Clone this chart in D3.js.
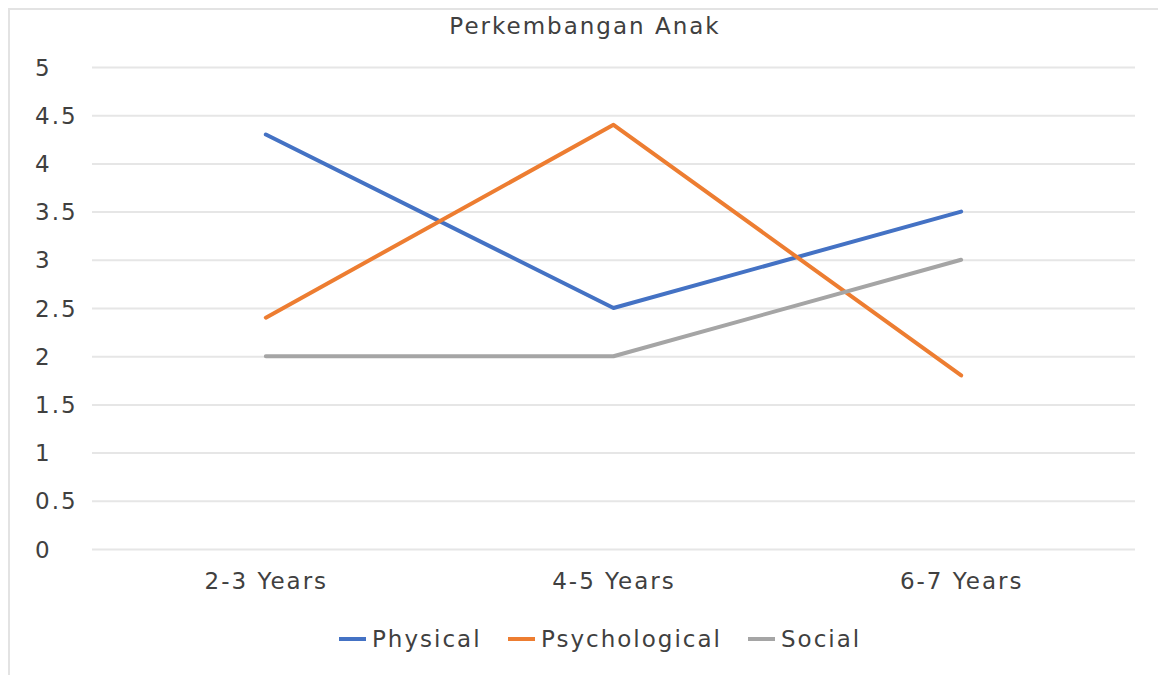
<!DOCTYPE html>
<html>
<head>
<meta charset="utf-8">
<script src="https://cdn.jsdelivr.net/npm/d3@7"></script>
<style>
  body { margin: 0; background: #fff; }
  svg text { font-family: "DejaVu Sans", Verdana, sans-serif; font-size: 23px; letter-spacing: 2px; fill: #404040; }
</style>
</head>
<body>
<div class="canvas"></div>
<script>
const dims = { width: 1158, height: 675 };

// data
const categories = ["2-3 Years", "4-5 Years", "6-7 Years"];
const seriesNames = ["Physical", "Psychological", "Social"];
const physical = [4.3, 2.5, 3.5];
const psychological = [2.4, 4.4, 1.8];
const social = [2, 2, 3];
const yTicks = [0, 0.5, 1, 1.5, 2, 2.5, 3, 3.5, 4, 4.5, 5];
const title = "Perkembangan Anak";

const colors = ["#4472C4", "#ED7D31", "#A5A5A5"];
const series = [physical, psychological, social].map((vals, i) => ({
  name: seriesNames[i],
  color: colors[i],
  values: vals.map((v, j) => ({ cat: categories[j], v: v })),
}));

const plot = { left: 92, right: 1135, top: 67, bottom: 549 };

const svg = d3
  .select(".canvas")
  .append("svg")
  .attr("width", dims.width)
  .attr("height", dims.height);

// chart frame
svg
  .append("rect")
  .attr("x", 9)
  .attr("y", 9)
  .attr("width", 1160)
  .attr("height", 680)
  .attr("fill", "none")
  .attr("stroke", "#e3e3e3")
  .attr("stroke-width", 2);

const x = d3
  .scalePoint()
  .domain(categories)
  .range([plot.left, plot.right])
  .padding(0.5);

const y = d3.scaleLinear().domain([0, 5]).range([plot.bottom, plot.top]);

// gridlines
const grid = svg
  .append("g")
  .attr("transform", `translate(${plot.left},0)`)
  .call(
    d3.axisLeft(y)
      .tickValues(yTicks)
      .tickSize(-(plot.right - plot.left))
      .tickFormat("")
  );
grid.select(".domain").remove();
grid.selectAll("line").attr("stroke", "#e6e6e6").attr("stroke-width", 2);

// y labels (left aligned like the original)
const yAxis = svg
  .append("g")
  .attr("transform", "translate(35,0)")
  .call(
    d3.axisRight(y)
      .tickValues(yTicks)
      .tickFormat((d) => String(d))
      .tickSize(0)
      .tickPadding(0)
  );
yAxis.select(".domain").remove();
yAxis.selectAll("text").attr("font-family", null).attr("font-size", null).attr("dy", "0.35em");

// x labels
const xAxis = svg
  .append("g")
  .attr("transform", `translate(0,${plot.bottom})`)
  .call(d3.axisBottom(x).tickSize(0).tickPadding(24));
xAxis.select(".domain").remove();
xAxis.selectAll("text").attr("font-family", null).attr("font-size", null);

// lines
const line = d3
  .line()
  .x((d) => x(d.cat))
  .y((d) => y(d.v));

svg
  .append("g")
  .selectAll("path")
  .data(series)
  .join("path")
  .attr("d", (d) => line(d.values))
  .attr("fill", "none")
  .attr("stroke", (d) => d.color)
  .attr("stroke-width", 4)
  .attr("stroke-linejoin", "round")
  .attr("stroke-linecap", "round");

// title
svg
  .append("text")
  .attr("x", 585)
  .attr("y", 34)
  .attr("text-anchor", "middle")
  .text(title);

// legend
const legendX = [339, 508, 748];
const legend = svg
  .append("g")
  .selectAll("g")
  .data(series)
  .join("g")
  .attr("transform", (d, i) => `translate(${legendX[i]},639)`);

legend
  .append("line")
  .attr("x1", 0)
  .attr("x2", 27)
  .attr("stroke", (d) => d.color)
  .attr("stroke-width", 4);

legend
  .append("text")
  .attr("x", 33)
  .attr("dy", "0.35em")
  .text((d) => d.name);
</script>
</body>
</html>
